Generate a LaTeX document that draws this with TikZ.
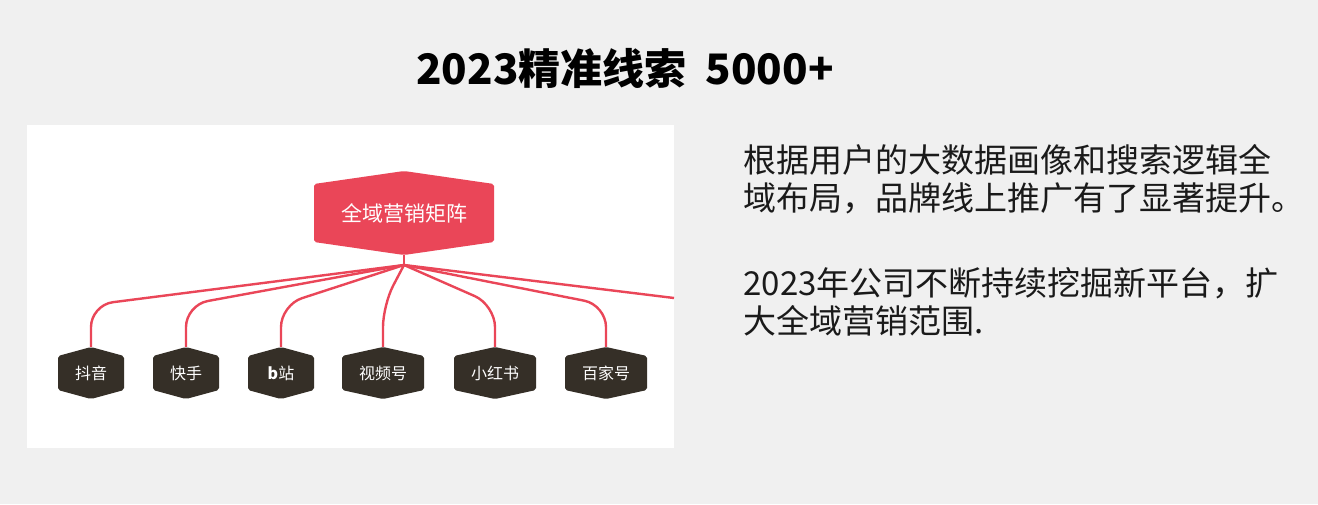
\documentclass[tikz,border=0pt]{standalone}
\usepackage{fontspec}
\setmainfont{Noto Sans CJK SC}
\usetikzlibrary{positioning}
\definecolor{bggray}{HTML}{F0F0F0}
\definecolor{rosered}{HTML}{EA4658}
\definecolor{darkhex}{HTML}{352F27}
\definecolor{inkgray}{HTML}{1A1A1A}
\newcommand{\hexcol}{darkhex}
\newcommand{\hexcut}{9pt}
\tikzset{
  hexbox/.style={rectangle, inner sep=0pt, text=white, font=\fontsize{16}{18}\selectfont,
    minimum height=52pt, minimum width=66pt,
    path picture={\fill[\hexcol, rounded corners=2pt] (path picture bounding box.north)
      -- ([yshift=-\hexcut]path picture bounding box.north east)
      -- ([yshift=\hexcut]path picture bounding box.south east)
      -- (path picture bounding box.south)
      -- ([yshift=\hexcut]path picture bounding box.south west)
      -- ([yshift=-\hexcut]path picture bounding box.north west) -- cycle;}},
  branch/.style={rosered, line width=2.4pt, rounded corners=22pt},
}
\begin{document}
\begin{tikzpicture}[x=1pt, y=-1pt]
  % canvas
  \fill[bggray] (0,0) rectangle (1318,504);
  \useasboundingbox (0,0) rectangle (1318,504);
  \fill[white] (27,125) rectangle (674,448);

  % title
  \node[font=\fontsize{42}{48}\bfseries\selectfont] (title) at (625,68) {2023精准线索\ \ 5000+};

  % root
  \renewcommand{\hexcol}{rosered}
  \renewcommand{\hexcut}{13pt}
  \node[hexbox, minimum width=180pt, minimum height=84pt, font=\fontsize{21}{24}\selectfont] (root) at (404,213) {全域营销矩阵};
  \renewcommand{\hexcol}{darkhex}
  \renewcommand{\hexcut}{9pt}

  % channels
  \node[hexbox] (dy) at (91,373) {抖音};
  \node[hexbox] (ks) at (186,373) {快手};
  \node[hexbox] (bz) at (281,373) {\textbf{b}站};
  \node[hexbox, minimum width=82pt] (sph) at (383,373) {视频号};
  \node[hexbox, minimum width=82pt] (xhs) at (495,373) {小红书};
  \node[hexbox, minimum width=82pt] (bjh) at (606,373) {百家号};

  \coordinate (hub) at (404,265);
  \coordinate (edge) at (674,298);
  \draw[branch] (root.south) -- (hub);
  \foreach \ch in {dy,ks,bz,sph,xhs,bjh}
    \draw[branch] (hub) -- (\ch.north |- 0,305) -- (\ch.north);
  \draw[branch] (hub) -- (edge);

  % description
  \node[anchor=west, align=left, text=inkgray, font=\fontsize{33}{38}\selectfont] (para1) at (740,179)
    {根据用户的大数据画像和搜索逻辑全\\域布局，品牌线上推广有了显著提升。};
  \node[anchor=west, align=left, text=inkgray, font=\fontsize{33}{38}\selectfont] (para2) at (740,302)
    {2023年公司不断持续挖掘新平台，扩\\大全域营销范围.};
\end{tikzpicture}
\end{document}
